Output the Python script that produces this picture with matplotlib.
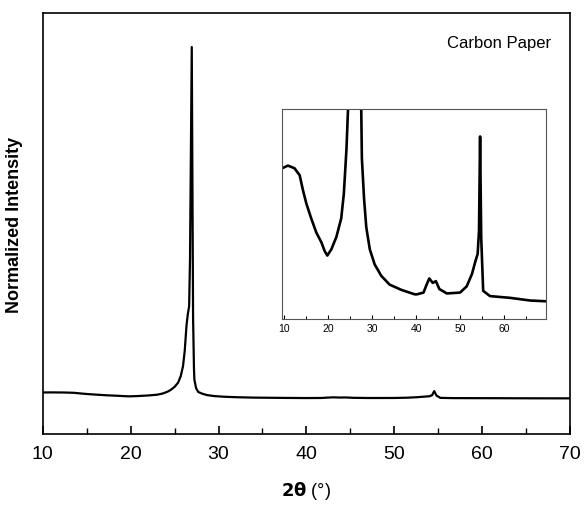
import matplotlib
matplotlib.use("Agg")
import matplotlib.pyplot as plt
from matplotlib.ticker import MultipleLocator

plt.rcParams['font.family'] = ['Liberation Sans', 'DejaVu Sans']

# XRD pattern of carbon paper (normalized, peak = 1)
two_theta = [9.6, 10.9, 12.4, 13.57, 14.32, 15.08, 16.2, 17.35, 18.5, 19.25,
             19.85, 20.76, 21.9, 23.0, 23.6, 24.2, 24.55, 25.0, 25.4, 25.7,
             25.95, 26.15, 26.35, 26.5, 26.65, 26.75, 26.95, 27.1, 27.2, 27.25,
             27.45, 27.7, 28.2, 28.7, 29.5, 30.6, 32.1, 34.0, 36.7, 39.7, 40.2,
             41.7, 42.4, 43.0, 43.8, 44.5, 45.3, 47.0, 50.0, 51.5, 52.7, 53.4,
             54.0, 54.3, 54.55, 54.8, 55.25, 56.8, 61.4, 65.9, 70.0]
intensity = [0.1073, 0.1076, 0.1073, 0.1065, 0.1048, 0.1033, 0.1016, 0.1000,
             0.0989, 0.0979, 0.0974, 0.0981, 0.0995, 0.1016, 0.1044, 0.1095,
             0.114, 0.122, 0.133, 0.150, 0.175, 0.215, 0.28, 0.31, 0.33, 0.45,
             1.0, 0.30, 0.17, 0.14, 0.118, 0.1084, 0.1038, 0.1006, 0.0981,
             0.0964, 0.0951, 0.0941, 0.0935, 0.0930, 0.0930, 0.0932, 0.0941,
             0.0948, 0.0943, 0.0945, 0.0936, 0.0931, 0.0932, 0.0939, 0.0953,
             0.0966, 0.0976, 0.1002, 0.1109, 0.0995, 0.0934, 0.0928, 0.0926,
             0.0923, 0.0922]

main_ticks = [10, 20, 30, 40, 50, 60, 70]
inset_ticks = [10, 20, 30, 40, 50, 60]

fig = plt.figure(figsize=(5.87, 5.10), dpi=100)
ax = fig.add_axes([0.073, 0.147, 0.898, 0.8255])
ax.plot(two_theta, intensity, color='black', lw=1.6)
ax.set_xlim(10, 70)
ax.set_ylim(0, 1.088)
ax.set_xticks(main_ticks)
ax.xaxis.set_minor_locator(MultipleLocator(5))
ax.tick_params(axis='x', which='major', direction='in', length=6, width=1.2,
               labelsize=14, pad=8, top=False)
ax.tick_params(axis='x', which='minor', direction='in', length=4, width=1.0, top=False)
ax.tick_params(axis='y', left=False, labelleft=False)
for s in ax.spines.values():
    s.set_linewidth(1.2)
ax.set_ylabel('Normalized Intensity', fontsize=13, fontweight='bold', labelpad=14)
ax.set_xlabel(r'$\mathbf{2\theta}$ (°)', fontsize=13, labelpad=12)
ax.text(0.965, 0.93, 'Carbon Paper', transform=ax.transAxes, ha='right',
        va='center', fontsize=12)

# inset: zoom on the weak features
axin = fig.add_axes([0.480, 0.3725, 0.450, 0.4115])
axin.plot(two_theta, intensity, color='black', lw=1.9)
axin.set_xlim(9.5, 69.5)
axin.set_ylim(0.0902, 0.114)
axin.set_xticks(inset_ticks)
axin.xaxis.set_minor_locator(MultipleLocator(5))
axin.tick_params(axis='x', which='major', direction='in', length=3, width=0.8,
                 labelsize=7.5, pad=3, top=False)
axin.tick_params(axis='x', which='minor', direction='in', length=2, width=0.7, top=False)
axin.tick_params(axis='y', left=False, labelleft=False)
for s in axin.spines.values():
    s.set_linewidth(0.8)
    s.set_color('#555555')

fig.savefig('out.png', dpi=100)
